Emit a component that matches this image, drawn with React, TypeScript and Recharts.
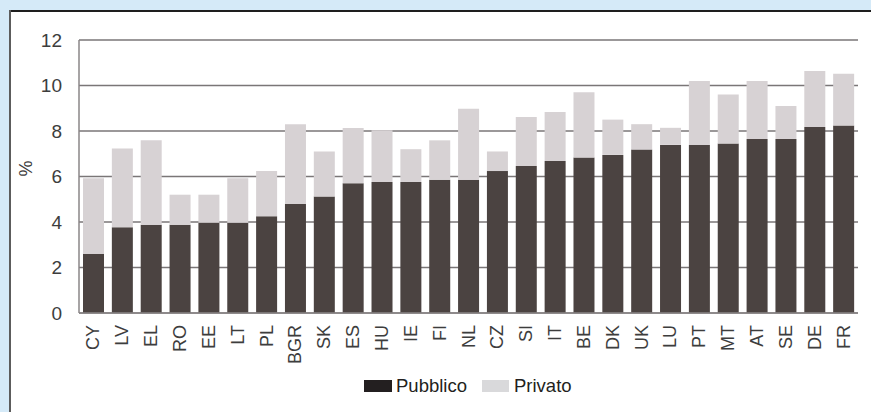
import React from 'react';
import { BarChart, Bar, XAxis, YAxis, CartesianGrid, Legend } from 'recharts';

const categories = ['CY','LV','EL','RO','EE','LT','PL','BGR','SK','ES','HU','IE','FI','NL','CZ','SI','IT','BE','DK','UK','LU','PT','MT','AT','SE','DE','FR'];
const pubblico = [2.6,3.77,3.88,3.88,3.97,3.97,4.25,4.79,5.12,5.7,5.76,5.76,5.86,5.86,6.24,6.46,6.68,6.83,6.95,7.19,7.39,7.39,7.45,7.65,7.65,8.18,8.24];
const privato = [3.32,3.46,3.71,1.32,1.23,1.95,1.99,3.51,1.98,2.43,2.27,1.44,1.73,3.12,0.86,2.16,2.16,2.87,1.55,1.11,0.75,2.81,2.15,2.55,1.45,2.46,2.28];
const yTicks = [0, 2, 4, 6, 8, 10, 12];
const seriesNames = { pub: 'Pubblico', priv: 'Privato' };

const data = categories.map((c, i) => ({ name: c, pub: pubblico[i], priv: privato[i] }));

const FONT = '"Liberation Sans", Arial, sans-serif';
const BLUE = '#d5eaf8';

const XTick = (props: any) => {
  const { x, y, payload } = props;
  return (
    <text
      x={x}
      y={y}
      transform={`rotate(-90 ${x} ${y})`}
      textAnchor="end"
      dominantBaseline="central"
      fontSize={18}
      fontFamily={FONT}
      fill="#3d3d3d"
    >
      {payload.value}
    </text>
  );
};

const LegendContent = () => (
  <div style={{ position: 'relative', height: 20, width: 871, fontFamily: FONT, fontSize: 18.5, color: '#231f20' }}>
    <div style={{ position: 'absolute', left: 364, top: 4, width: 28, height: 12, background: '#231f20' }} />
    <div style={{ position: 'absolute', left: 396, top: 0, lineHeight: '20px' }}>{seriesNames.pub}</div>
    <div style={{ position: 'absolute', left: 482, top: 4, width: 27, height: 12, background: '#d9d9db' }} />
    <div style={{ position: 'absolute', left: 514, top: 0, lineHeight: '20px' }}>{seriesNames.priv}</div>
  </div>
);

export default function App() {
  return (
    <div style={{ position: 'fixed', left: 0, top: 0, right: 0, bottom: 0, background: '#ffffff', overflow: 'hidden' }}>
      <div style={{ position: 'absolute', left: 0, top: 0, right: 0, height: 10, background: BLUE }} />
      <div style={{ position: 'absolute', left: 0, top: 0, bottom: 0, width: 9, background: BLUE }} />
      <div style={{ position: 'absolute', left: 9, top: 10, right: 0, height: 2, background: '#1e1e1e' }} />
      <div style={{ position: 'absolute', left: 9, top: 10, bottom: 0, width: 2, background: '#5c5c5c' }} />
      <div style={{ position: 'absolute', left: 0, top: 0 }}>
        <BarChart
          width={871}
          height={412}
          data={data}
          margin={{ top: 40, right: 13, left: 19, bottom: 16 }}
          barSize={21}
        >
          <CartesianGrid horizontal={true} vertical={false} stroke="#7a7677" strokeWidth={1.5} />
          <XAxis
            dataKey="name"
            interval={0}
            tick={<XTick />}
            tickLine={false}
            tickSize={0}
            tickMargin={12}
            height={63}
            axisLine={{ stroke: '#8a8687', strokeWidth: 1.5 }}
          />
          <YAxis
            width={60}
            domain={[0, 12]}
            ticks={yTicks}
            interval={0}
            tickLine={false}
            tickSize={0}
            tickMargin={17}
            axisLine={{ stroke: '#8a8687', strokeWidth: 1.5 }}
            tick={{ fontSize: 19, fontFamily: FONT, fill: '#3d3d3d' }}
            label={{ value: '%', angle: -90, position: 'insideLeft', offset: 7, style: { fontSize: 18, fontFamily: FONT, fill: '#3d3d3d' } }}
          />
          <Legend
            verticalAlign="bottom"
            height={20}
            content={<LegendContent />}
            wrapperStyle={{ left: 0, width: 871 }}
          />
          <Bar dataKey="pub" name={seriesNames.pub} stackId="a" fill="#4b4341" isAnimationActive={false} />
          <Bar dataKey="priv" name={seriesNames.priv} stackId="a" fill="#d7d2d4" isAnimationActive={false} />
        </BarChart>
      </div>
    </div>
  );
}
